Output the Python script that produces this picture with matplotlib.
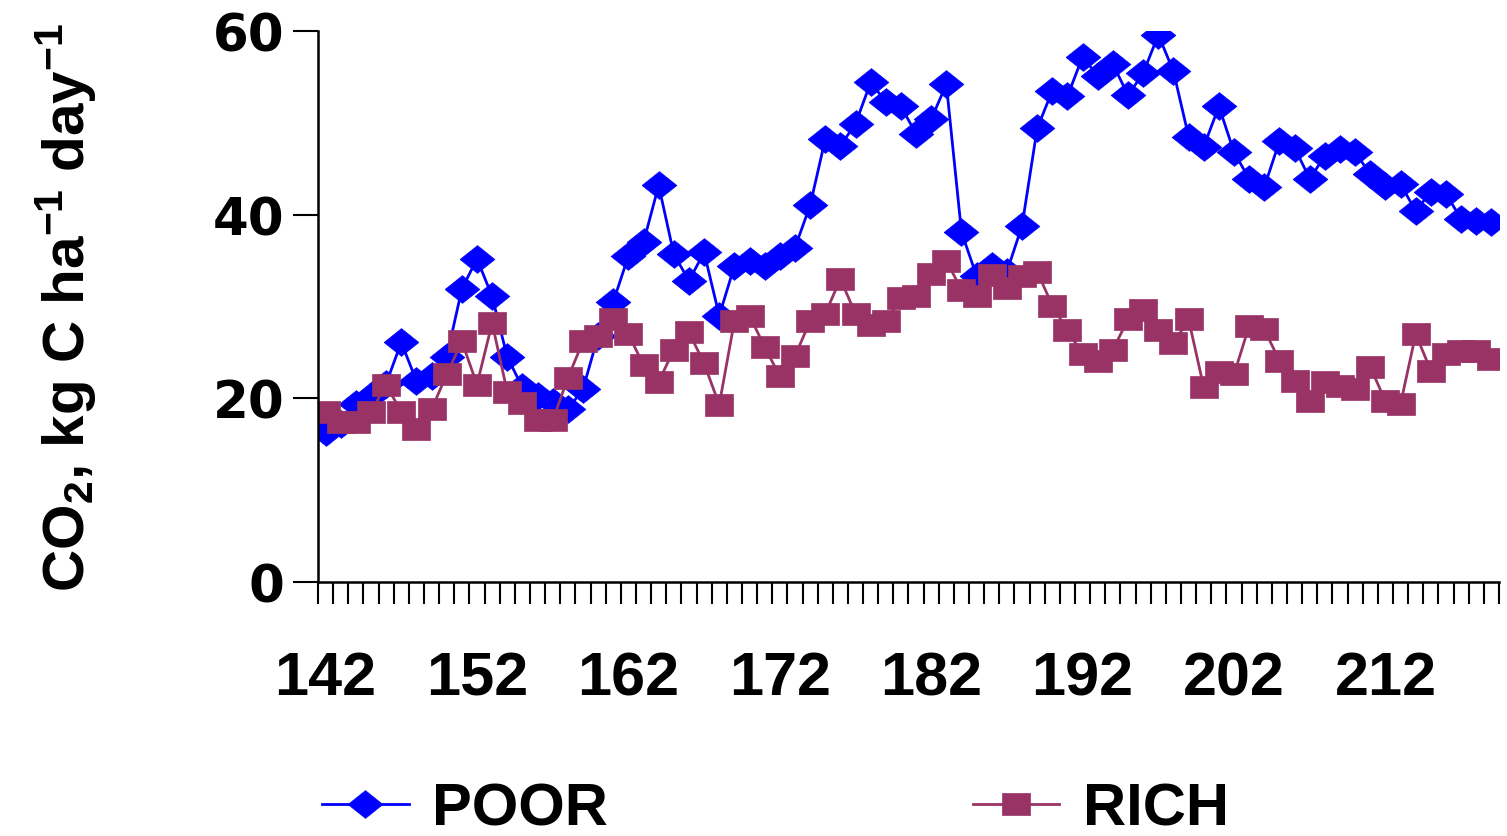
import matplotlib.pyplot as plt
from matplotlib.ticker import FixedLocator
import numpy as np

# day of year (one category per day)
days = np.arange(142, 220)

poor = [16.3, 17.2, 19.4, 20.3, 21.6, 26.1, 21.9, 22.4, 24.5, 31.9,
        35.2, 31.1, 24.5, 21.2, 20.3, 19.6, 18.8, 21.0, 26.8, 30.5,
        35.5, 37.0, 43.2, 35.7, 32.8, 35.9, 29.0, 34.4, 35.0, 34.4,
        35.5, 36.4, 41.0, 48.2, 47.5, 49.9, 54.4, 52.3, 51.8, 48.8,
        50.4, 54.2, 38.1, 33.3, 34.4, 33.8, 38.8, 49.4, 53.5, 52.9,
        57.2, 55.1, 56.4, 53.0, 55.4, 59.6, 55.6, 48.5, 47.4, 51.8,
        46.8, 43.9, 43.0, 48.0, 47.3, 43.9, 46.4, 47.2, 46.8, 44.4,
        43.1, 43.3, 40.4, 42.5, 42.3, 39.5, 39.3, 39.2]

rich = [18.5, 17.4, 17.4, 18.5, 21.5, 18.5, 16.7, 18.8, 22.6, 26.2,
        21.5, 28.2, 20.7, 19.5, 17.6, 17.6, 22.2, 26.2, 26.8, 28.6,
        27.0, 23.6, 21.8, 25.3, 27.2, 23.8, 19.3, 28.4, 29.0, 25.6,
        22.4, 24.6, 28.4, 29.2, 33.0, 29.2, 28.0, 28.4, 30.9, 31.1,
        33.5, 35.0, 31.8, 31.1, 33.4, 32.0, 33.3, 33.8, 30.1, 27.4,
        24.8, 24.1, 25.3, 28.6, 29.6, 27.4, 26.0, 28.6, 21.2, 22.9,
        22.6, 27.9, 27.5, 24.1, 21.9, 19.7, 21.8, 21.3, 21.0, 23.4,
        19.7, 19.4, 27.0, 23.0, 24.8, 25.2, 25.2, 24.3]

xlabels = [142, 152, 162, 172, 182, 192, 202, 212]
yticks = [0, 20, 40, 60]

plt.rcParams['mathtext.fontset'] = 'custom'
plt.rcParams['mathtext.rm'] = 'Liberation Sans:bold'
plt.rcParams['mathtext.bf'] = 'Liberation Sans:bold'
plt.rcParams['mathtext.it'] = 'Liberation Sans:bold'

# wide diamond and flat square markers like the Excel original
diamond = [(-1, 0), (0, 0.8), (1, 0), (0, -0.8), (-1, 0)]
square = [(-1, -0.78), (1, -0.78), (1, 0.78), (-1, 0.78), (-1, -0.78)]

fig = plt.figure(figsize=(15.07, 8.37), dpi=100)
ax = fig.add_axes([318 / 1507, (837 - 583) / 837, (1499 - 318) / 1507, (583 - 32) / 837])

ax.plot(days, poor, color='#0000FF', lw=2, marker=diamond, ms=25, mew=0.5, label='POOR')
ax.plot(days, rich, color='#993366', lw=2, marker=square, ms=19.5, mew=0.5, label='RICH')

ax.set_xlim(141.5, 219.5)
ax.set_ylim(0, 60)

for side in ['top', 'right']:
    ax.spines[side].set_visible(False)
for side in ['left', 'bottom']:
    ax.spines[side].set_linewidth(1.8)

ax.set_yticks(yticks)
ax.tick_params(axis='y', direction='out', length=18, width=1.5, pad=6)
for lbl in ax.get_yticklabels():
    lbl.set_fontfamily('DejaVu Sans')
    lbl.set_fontweight('bold')
    lbl.set_fontsize(37)

ax.xaxis.set_major_locator(FixedLocator(xlabels))
ax.xaxis.set_minor_locator(FixedLocator(np.arange(141.5, 219.6, 1)))
ax.tick_params(axis='x', which='major', length=0, pad=49)
ax.tick_params(axis='x', which='minor', direction='out', length=16, width=1.5)
for lbl in ax.get_xticklabels():
    lbl.set_fontfamily('Liberation Sans')
    lbl.set_fontweight('bold')
    lbl.set_fontsize(44)

fig.text(66 / 1507, (837 - 307) / 837,
         r'CO$_{2}$, kg C ha$^{\mathrm{-1}}$ day$^{\mathrm{-1}}$',
         rotation=90, ha='center', va='center',
         fontfamily='Liberation Sans', fontweight='bold', fontsize=42)

fig.legend(loc='center left', bbox_to_anchor=(322 / 1507, 27 / 837), ncol=2,
           frameon=False, prop={'family': 'Liberation Sans', 'weight': 'bold', 'size': 43},
           handlelength=1.45, handletextpad=0.4, columnspacing=6.1,
           borderpad=0, borderaxespad=0)

fig.savefig('out.png', dpi=100)
